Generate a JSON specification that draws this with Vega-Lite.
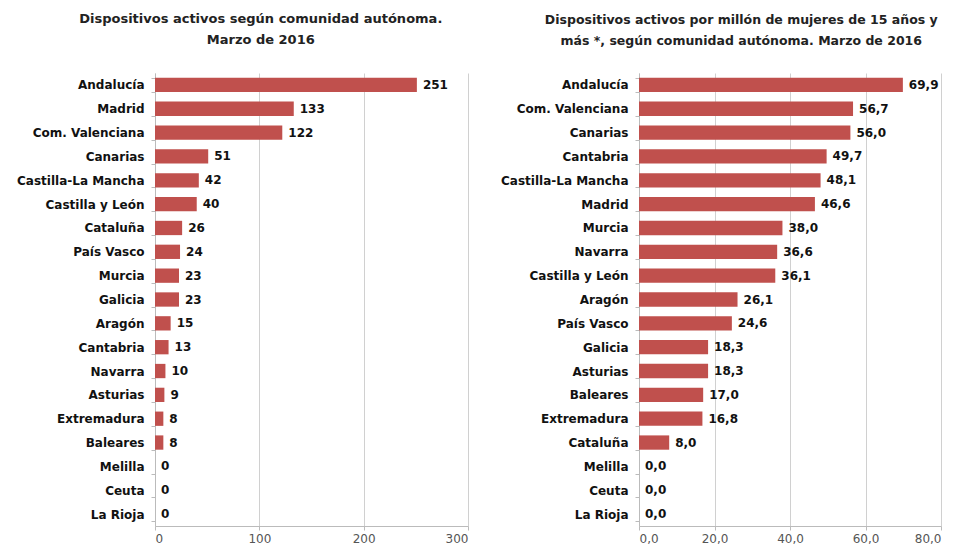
{
  "$schema": "https://vega.github.io/schema/vega-lite/v6.json",
  "padding": {"left": 5, "top": 13, "right": 5, "bottom": 5},
  "background": "white",
  "config": {
    "locale": {"number": {"decimal": ",", "thousands": ".", "grouping": [3], "currency": ["", " €"]}},
    "font": "DejaVu Sans",
    "view": {"stroke": null},
    "concat": {"spacing": 30},
    "title": {"font": "DejaVu Sans", "fontSize": 12.5, "fontWeight": "bold", "color": "#222", "anchor": "middle", "frame": "bounds", "offset": 20, "lineHeight": 21},
    "axisY": {"labelFont": "DejaVu Sans", "labelFontWeight": "bold", "labelFontSize": 12, "labelColor": "#111", "domainColor": "#bbb", "tickColor": "#bbb", "tickSize": 4, "tickBand": "extent", "labelPadding": 7, "title": null, "grid": false},
    "axisX": {"labelFont": "DejaVu Sans", "labelFontSize": 12, "labelColor": "#555", "domainColor": "#bbb", "tickColor": "#bbb", "tickSize": 4, "gridColor": "#d0d0d0", "title": null, "labelPadding": 3}
  },
  "datasets": {
    "total": [
      {"comunidad": "Andalucía", "valor": 251},
      {"comunidad": "Madrid", "valor": 133},
      {"comunidad": "Com. Valenciana", "valor": 122},
      {"comunidad": "Canarias", "valor": 51},
      {"comunidad": "Castilla-La Mancha", "valor": 42},
      {"comunidad": "Castilla y León", "valor": 40},
      {"comunidad": "Cataluña", "valor": 26},
      {"comunidad": "País Vasco", "valor": 24},
      {"comunidad": "Murcia", "valor": 23},
      {"comunidad": "Galicia", "valor": 23},
      {"comunidad": "Aragón", "valor": 15},
      {"comunidad": "Cantabria", "valor": 13},
      {"comunidad": "Navarra", "valor": 10},
      {"comunidad": "Asturias", "valor": 9},
      {"comunidad": "Extremadura", "valor": 8},
      {"comunidad": "Baleares", "valor": 8},
      {"comunidad": "Melilla", "valor": 0},
      {"comunidad": "Ceuta", "valor": 0},
      {"comunidad": "La Rioja", "valor": 0}
    ],
    "tasa": [
      {"comunidad": "Andalucía", "valor": 69.9},
      {"comunidad": "Com. Valenciana", "valor": 56.7},
      {"comunidad": "Canarias", "valor": 56.0},
      {"comunidad": "Cantabria", "valor": 49.7},
      {"comunidad": "Castilla-La Mancha", "valor": 48.1},
      {"comunidad": "Madrid", "valor": 46.6},
      {"comunidad": "Murcia", "valor": 38.0},
      {"comunidad": "Navarra", "valor": 36.6},
      {"comunidad": "Castilla y León", "valor": 36.1},
      {"comunidad": "Aragón", "valor": 26.1},
      {"comunidad": "País Vasco", "valor": 24.6},
      {"comunidad": "Galicia", "valor": 18.3},
      {"comunidad": "Asturias", "valor": 18.3},
      {"comunidad": "Baleares", "valor": 17.0},
      {"comunidad": "Extremadura", "valor": 16.8},
      {"comunidad": "Cataluña", "valor": 8.0},
      {"comunidad": "Melilla", "valor": 0.0},
      {"comunidad": "Ceuta", "valor": 0.0},
      {"comunidad": "La Rioja", "valor": 0.0}
    ]
  },
  "hconcat": [
    {
      "title": {"text": ["Dispositivos activos según comunidad autónoma.", "Marzo de 2016"], "dx": 24, "fontSize": 13},
      "width": 313,
      "height": 453,
      "data": {"name": "total"},
      "encoding": {
        "y": {"field": "comunidad", "type": "nominal", "sort": null, "scale": {"paddingInner": 0.4, "paddingOuter": 0.2}, "axis": {"minExtent": 150, "maxExtent": 150}},
        "x": {"field": "valor", "type": "quantitative", "scale": {"domain": [0, 300], "nice": false}, "axis": {"values": [0, 100, 200, 300], "format": "d"}}
      },
      "layer": [
        {"mark": {"type": "bar", "color": "#C0504D"}},
        {"mark": {"type": "text", "align": "left", "dx": 6, "font": "DejaVu Sans", "fontWeight": "bold", "fontSize": 12, "color": "#111"}, "encoding": {"text": {"field": "valor", "type": "quantitative", "format": "d"}}}
      ]
    },
    {
      "title": {"text": ["Dispositivos activos por millón de mujeres de 15 años y", "más *, según comunidad autónoma. Marzo de 2016"], "dx": 21},
      "width": 302,
      "height": 453,
      "data": {"name": "tasa"},
      "encoding": {
        "y": {"field": "comunidad", "type": "nominal", "sort": null, "scale": {"paddingInner": 0.4, "paddingOuter": 0.2}, "axis": {"minExtent": 140, "maxExtent": 140}},
        "x": {"field": "valor", "type": "quantitative", "scale": {"domain": [0, 80], "nice": false}, "axis": {"values": [0, 20, 40, 60, 80], "format": ".1f"}}
      },
      "layer": [
        {"mark": {"type": "bar", "color": "#C0504D"}},
        {"mark": {"type": "text", "align": "left", "dx": 6, "font": "DejaVu Sans", "fontWeight": "bold", "fontSize": 12, "color": "#111"}, "encoding": {"text": {"field": "valor", "type": "quantitative", "format": ".1f"}}}
      ]
    }
  ]
}
